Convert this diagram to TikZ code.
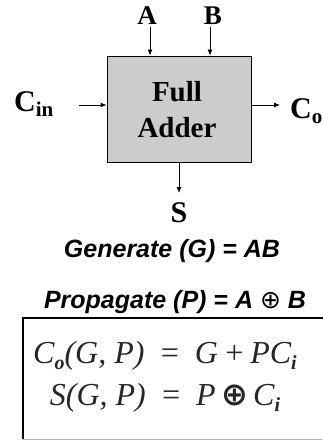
\documentclass[tikz,border=0pt]{standalone}
\usepackage{fontspec}
\setmainfont{Liberation Serif}
\newfontfamily\arialfont{Liberation Sans}
\newfontfamily\dvsans{DejaVu Sans}
\usetikzlibrary{arrows.meta}
\newcommand\fsub[1]{\raisebox{-6pt}{\fontsize{20}{20}\selectfont\bfseries #1}}
\newcommand\lsub[1]{\raisebox{-5pt}{\fontsize{21}{21}\selectfont #1}}
\begin{document}
\begin{tikzpicture}[x=1pt,y=-1pt,
  lbl/.style={font=\fontsize{30}{30}\selectfont\bfseries, inner sep=0},
  boxtxt/.style={font=\fontsize{29}{29}\selectfont\bfseries, inner sep=0},
  abl/.style={font=\fontsize{27}{27}\selectfont\bfseries, inner sep=0},
  arr/.style={-{Latex[length=6pt,width=5pt]}, line width=0.9pt},
  gtext/.style={font=\arialfont\fontsize{25}{25}\selectfont\bfseries\itshape, inner sep=0},
  ftext/.style={font=\fontsize{32}{32}\selectfont\itshape, inner sep=0, text=black!85}]
\useasboundingbox (0,0) rectangle (322,441);
% full adder block
\node[draw, fill=gray!40, line width=0.9pt, minimum width=144pt, minimum height=106pt, inner sep=0] (fa) at (179,109) {};
\node[boxtxt, anchor=base] (full) at (177,102) {Full};
\node[boxtxt, anchor=base] (adder) at (177,137) {Adder};
% inputs A, B
\node[abl, anchor=base] (A) at (147,25) {A};
\node[abl, anchor=base] (B) at (213,25) {B};
\coordinate (a1) at (150,27);
\coordinate (b1) at (210,27);
\draw[arr] (a1) -- (a1 |- fa.north);
\draw[arr] (b1) -- (b1 |- fa.north);
% carry in
\node[lbl, anchor=base west] (cin) at (14,111) {C\lsub{in}};
\coordinate (cin1) at (79,105);
\draw[arr] (cin1) -- (cin1 -| fa.west);
% carry out
\node[lbl, anchor=base west] (co) at (290,118) {C\lsub{o}};
\coordinate (co1) at (280,105);
\draw[arr] (co1 -| fa.east) -- (co1);
% sum
\node[lbl, anchor=base] (S) at (179,222) {S};
\coordinate (s1) at (179,193);
\draw[arr] (s1 |- fa.south) -- (s1);
% generate / propagate
\node[gtext, anchor=base] (gen) at (172,257) {Generate (G) = AB};
\node[gtext, anchor=base] (prop) at (175,308) {Propagate (P) = A {\dvsans\mdseries\upshape ⊕} B};
% formula frame
\coordinate (fbl) at (23,439);
\coordinate (ftl) at (23,318);
\coordinate (ftr) at (324,318);
\coordinate (fbr) at (322,439);
\draw[gray!60, line width=1pt] (fbl) -- (fbr);
\draw[line width=2.5pt] (fbl) -- (ftl) -- (ftr);
\node[ftext, anchor=base] (f1) at (165,363) {C\fsub{o}(G, P)\hspace{0.45em}=\hspace{0.45em}G\,+\,PC\fsub{i}};
\node[ftext, anchor=base] (f2) at (165,405) {S(G, P)\hspace{0.45em}=\hspace{0.45em}P\,{\dvsans\upshape\bfseries ⊕}\,C\fsub{i}};
\end{tikzpicture}
\end{document}
